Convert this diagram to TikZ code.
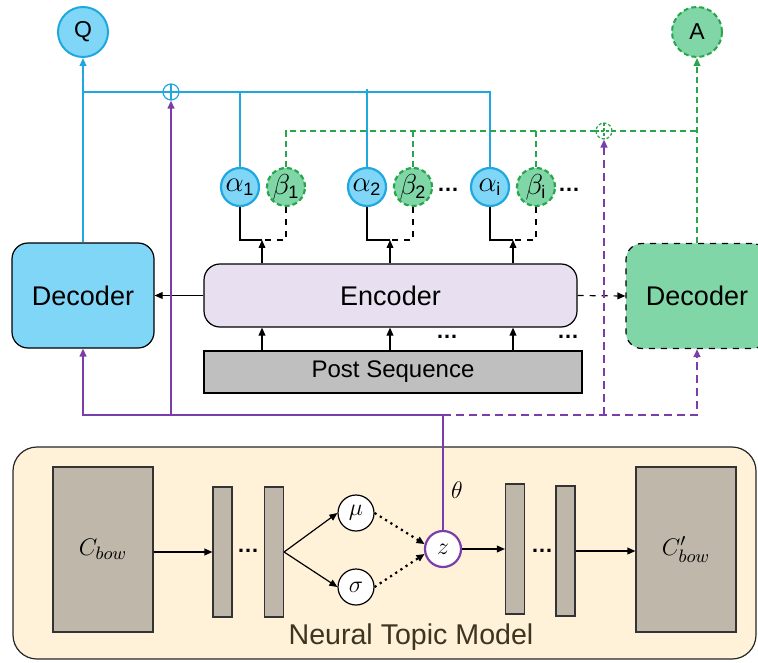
\documentclass[tikz,border=0pt]{standalone}
\usepackage{fontspec}
\setmainfont{Liberation Sans}
\usetikzlibrary{arrows.meta}

\definecolor{qfill}{HTML}{80D6F7}
\definecolor{qline}{HTML}{1FA8DF}
\definecolor{afill}{HTML}{80D6A7}
\definecolor{aline}{HTML}{27A64C}
\definecolor{tpurple}{HTML}{7A3DAA}
\definecolor{encfill}{HTML}{E8E0F0}
\definecolor{postfill}{HTML}{BFBFBF}
\definecolor{ntmfill}{HTML}{FFF2D8}
\definecolor{layerfill}{HTML}{BFB8AA}
\definecolor{ntmtext}{HTML}{3D3522}

\newcommand{\subtxt}[1]{\mbox{\fontsize{9}{9}\selectfont #1}}

\begin{document}
\begin{tikzpicture}[x=0.5pt,y=-0.5pt,
    arr/.style={-{Triangle[length=4pt,width=3.4pt]}},
    qcirc/.style={circle,draw=qline,fill=qfill,line width=1pt,minimum size=25pt,inner sep=0pt,font=\fontsize{11.5}{12}\selectfont},
    acirc/.style={qcirc,draw=aline,fill=afill,dash pattern=on 2.5pt off 1.5pt},
    alphanode/.style={circle,draw=qline,fill=qfill,line width=1.1pt,minimum size=19pt,inner sep=0pt,font=\fontsize{14}{14}\selectfont},
    betanode/.style={alphanode,draw=aline,fill=afill,dash pattern=on 2.5pt off 1.5pt},
    oplus/.style={circle,draw,fill=white,line width=0.6pt,minimum size=8pt,inner sep=0pt,
      path picture={\draw[line width=0.6pt] (path picture bounding box.north) -- (path picture bounding box.south)
        (path picture bounding box.west) -- (path picture bounding box.east);}},
    dotsnode/.style={inner sep=0pt,font=\bfseries\fontsize{11}{12}\selectfont},
    decbox/.style={draw,line width=0.6pt,rounded corners=8pt,minimum width=71pt,minimum height=52.5pt,font=\fontsize{13.5}{14}\selectfont},
    layer/.style={draw=black!80,fill=layerfill,line width=0.6pt,minimum width=9.5pt,minimum height=65pt,inner sep=0pt},
    bowbox/.style={draw=black!80,fill=layerfill,line width=0.6pt,minimum width=50pt,minimum height=82.5pt,font=\fontsize{13}{14}\selectfont},
    varnode/.style={circle,draw,fill=white,line width=0.6pt,minimum size=18pt,inner sep=0pt,font=\fontsize{12.5}{13}\selectfont},
    qpath/.style={draw=qline,line width=0.75pt},
    apath/.style={draw=aline,line width=0.75pt,dash pattern=on 3pt off 2pt},
    ppath/.style={draw=tpurple,line width=0.8pt},
    pdash/.style={draw=tpurple,line width=1pt,dash pattern=on 4pt off 2.5pt}]
  \useasboundingbox (0,0) rectangle (758,662);

  % neural topic model
  \node[draw=black!85,fill=ntmfill,line width=0.6pt,rounded corners=12pt,minimum width=371.5pt,minimum height=106pt] (ntm) at (384.5,553) {};
  \node[text=ntmtext,font=\fontsize{14.3}{15}\selectfont] (ntmlabel) at (411,637) {Neural Topic Model};
  \node[bowbox] (cbow) at (103,549.5) {$C_{bow}$};
  \node[layer] (l1) at (222.5,552) {};
  \node[layer] (l2) at (274,552) {};
  \node[dotsnode] (ld1) at (248,551) {…};
  \node[varnode] (mu) at (356,513) {$\mu$};
  \node[varnode] (sigma) at (356,587) {$\sigma$};
  \node[varnode,draw=tpurple,line width=1.1pt] (z) at (443,549) {$z$};
  \node[font=\fontsize{12}{12}\selectfont] (theta) at (457,490) {$\theta$};
  \node[layer] (l3) at (515,549) {};
  \node[layer] (l4) at (565.5,551) {};
  \node[dotsnode] (ld2) at (542,551) {…};
  \node[bowbox] (cbowp) at (686,549.5) {$C'_{bow}$};

  \draw[arr,line width=0.6pt] (cbow.east |- l1) -- (l1.west);
  \draw[arr,line width=0.6pt] (l2.east) -- (mu.west);
  \draw[arr,line width=0.6pt] (l2.east) -- (sigma.west);
  \draw[arr,line width=1.1pt,dotted] (mu.east) -- (z.165);
  \draw[arr,line width=1.1pt,dotted] (sigma.east) -- (z.195);
  \draw[arr,line width=0.6pt] (z.east) -- (l3.west);
  \draw[arr,line width=0.6pt] (l4.east) -- (l4.east -| cbowp.west);

  % encoder part
  \node[decbox,fill=encfill,minimum width=186.5pt,minimum height=31.5pt] (enc) at (390.5,295.5) {Encoder};
  \node[draw,fill=postfill,line width=0.6pt,minimum width=189pt,minimum height=21pt,font=\fontsize{12}{12}\selectfont] (post) at (393,372) {Post Sequence};
  \node[decbox,fill=qfill] (decL) at (83,295.5) {Decoder};
  \node[decbox,fill=afill,dashed] (decR) at (697,296) {Decoder};
  \node[dotsnode] (ed1) at (447,337) {…};
  \node[dotsnode] (ed2) at (568,337) {…};

  \node[alphanode] (a1) at (240,187) {$\alpha_{\subtxt{1}}$};
  \node[betanode] (b1) at (286,187) {$\beta_{\subtxt{1}}$};
  \node[alphanode] (a2) at (367,187) {$\alpha_{\subtxt{2}}$};
  \node[betanode] (b2) at (413,187) {$\beta_{\subtxt{2}}$};
  \node[alphanode] (ai) at (490,187) {$\alpha_{\subtxt{i}}$};
  \node[betanode] (bi) at (536,187) {$\beta_{\subtxt{i}}$};
  \node[dotsnode] (d1) at (448,190) {…};
  \node[dotsnode] (d2) at (569,190) {…};

  \node[qcirc] (Q) at (83,32) {Q};
  \node[acirc] (A) at (697,32) {A};

  \coordinate (j1) at (262,240);
  \coordinate (j2) at (390,240);
  \coordinate (j3) at (513,240);
  \foreach \a/\b/\j in {a1/b1/j1,a2/b2/j2,ai/bi/j3} {
    \draw[line width=0.6pt] (\a.south) |- (\j);
    \draw[line width=0.6pt,dashed] (\b.south) |- (\j);
    \draw[arr,line width=0.6pt] (enc.north -| \j) -- (\j);
    \draw[arr,line width=0.6pt] (post.north -| \j) -- (enc.south -| \j);
  }
  \draw[arr,line width=0.6pt] (enc.west) -- (decL.east);
  \draw[arr,line width=0.6pt,dashed] (enc.east) -- (decR.west);

  % question side
  \coordinate (qtop) at (83,92);
  \coordinate (atop) at (697,131);
  \draw[qpath,arr] (decL.north) -- (Q.south);
  \draw[qpath] (qtop) -- (ai.north |- qtop) -- (ai.north);
  \draw[qpath] (a1.north) -- (a1.north |- qtop);
  \draw[qpath] (a2.north) -- ([yshift=1.5pt]a2.north |- qtop);
  \draw[apath,arr] (decR.north) -- (A.south);
  \draw[apath] (b1.north) |- (atop);
  \draw[apath] (b2.north) -- (b2.north |- atop);
  \draw[apath] (bi.north) -- (bi.north |- atop);
  \node[oplus,draw=qline] (opq) at (171,92) {};
  \node[oplus,draw=aline,dash pattern=on 1.5pt off 1pt] (opa) at (604,131) {};

  % topic vector
  \coordinate (pj) at (443,415);
  \draw[draw=tpurple,line width=0.6pt] (z.north) -- (pj);
  \draw[ppath,arr] (pj) -| (decL.south);
  \draw[ppath,arr] (opq |- pj) -- (opq.south);
  \draw[pdash,arr] (pj) -| (decR.south);
  \draw[pdash,arr] (opa |- pj) -- (opa.south);
\end{tikzpicture}
\end{document}
